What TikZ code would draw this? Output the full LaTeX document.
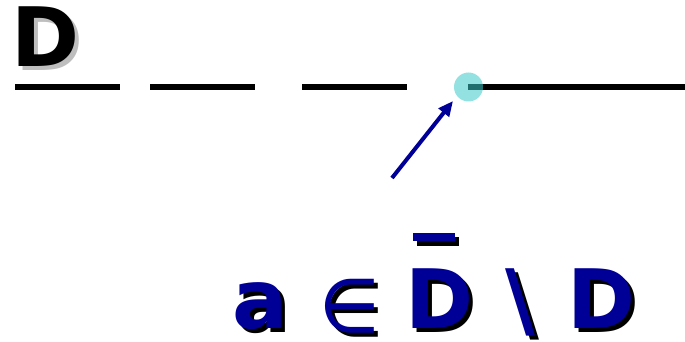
\documentclass[tikz,border=0pt]{standalone}
\usepackage{fontspec}
\setmainfont{DejaVu Sans}
\usetikzlibrary{arrows.meta}
\definecolor{dblue}{RGB}{0,0,150}
\definecolor{dotcyan}{RGB}{60,200,200}
\definecolor{shadowgray}{RGB}{190,190,190}
\tikzset{
  glyph/.style={inner sep=0pt, anchor=base west, font=\bfseries\fontsize{82}{82}\selectfont},
  elem/.style={inner sep=0pt, anchor=center, font=\mdseries\fontsize{75}{75}\selectfont},
  rule/.style={line width=5.5pt, black},
}
\begin{document}
\begin{tikzpicture}[x=1pt,y=-1pt]
\useasboundingbox (0,0) rectangle (685,342);
% top D with shadow
\node[glyph, text=shadowgray] (Dsh) at (15,71) {D};
\node[glyph, text=black] (Dtop) at (11,67) {D};
% dashed line
\coordinate (l1a) at (15,87); \coordinate (l1b) at (120,87);
\coordinate (l2a) at (150,87); \coordinate (l2b) at (255,87);
\coordinate (l3a) at (302,87); \coordinate (l3b) at (407,87);
\coordinate (l4a) at (468,87); \coordinate (l4b) at (685,87);
\draw[rule] (l1a) -- (l1b);
\draw[rule] (l2a) -- (l2b);
\draw[rule] (l3a) -- (l3b);
\draw[rule] (l4a) -- (l4b);
% dot
\node[circle, fill=dotcyan, fill opacity=0.55, minimum size=29pt, inner sep=0pt] (pt) at (468.5,87) {};
% arrow
\coordinate (astart) at (392,178);
\draw[dblue, line width=4pt, -{Triangle[length=15pt,width=13pt]}] (astart) -- (453,101);
% bottom formula: shadows
\begin{scope}[every node/.append style={glyph, text=black}]
\node (as) at (236,332) {a};
\node (ds) at (409,332) {D};
\node (bs) at (509,332) {\textbackslash};
\node (d2s) at (571,332) {D};
\end{scope}
\node[elem, text=black, xscale=0.93] (es) at (353.5,310.5) {∈};
\fill[black] (417,237) rectangle (459,246);
\begin{scope}[every node/.append style={glyph, text=dblue}]
\node (a) at (232,328) {a};
\node (d) at (405,328) {D};
\node (b) at (505,328) {\textbackslash};
\node (d2) at (567,328) {D};
\end{scope}
\node[elem, text=dblue, xscale=0.93] (e) at (349.5,306.5) {∈};
\fill[dblue] (413,233) rectangle (455,241);
\end{tikzpicture}
\end{document}
